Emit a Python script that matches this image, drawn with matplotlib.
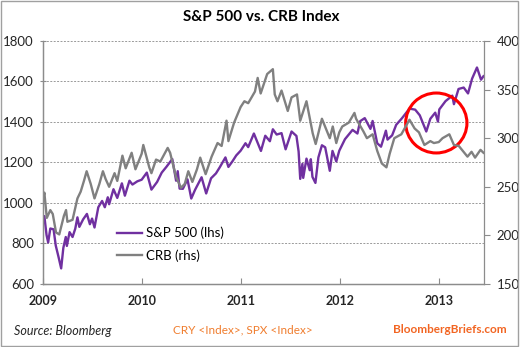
import pandas as pd
import matplotlib.pyplot as plt
import matplotlib.dates as mdates
from matplotlib.patches import Ellipse, Rectangle

# S&P 500 (left axis)
spx_dates = [
    "2009-01-02", "2009-01-06", "2009-01-14", "2009-01-20", "2009-01-28", "2009-02-09",
    "2009-02-17", "2009-02-27", "2009-03-09", "2009-03-17", "2009-03-26", "2009-03-30",
    "2009-04-09", "2009-04-20", "2009-04-30", "2009-05-08", "2009-05-15", "2009-05-29",
    "2009-06-12", "2009-06-23", "2009-07-01", "2009-07-10", "2009-07-24", "2009-08-07",
    "2009-08-17", "2009-08-28", "2009-09-02", "2009-09-18", "2009-10-02", "2009-10-19",
    "2009-10-30", "2009-11-16", "2009-11-27", "2009-12-15", "2009-12-31",
    "2010-01-19", "2010-02-05", "2010-02-26", "2010-03-15", "2010-04-01", "2010-04-23",
    "2010-05-07", "2010-05-13", "2010-05-20", "2010-06-01", "2010-06-18", "2010-07-02",
    "2010-07-16", "2010-08-09", "2010-08-26", "2010-09-13", "2010-10-01", "2010-10-15",
    "2010-11-05", "2010-11-16", "2010-12-01", "2010-12-15", "2010-12-31",
    "2011-01-18", "2011-01-28", "2011-02-18", "2011-03-16", "2011-04-01", "2011-04-18",
    "2011-04-29", "2011-05-13", "2011-05-31", "2011-06-15", "2011-07-07", "2011-07-25",
    "2011-08-02", "2011-08-08", "2011-08-16", "2011-08-19", "2011-08-31", "2011-09-12",
    "2011-09-16", "2011-09-22", "2011-10-03", "2011-10-14", "2011-10-27", "2011-11-08",
    "2011-11-25", "2011-12-05", "2011-12-19", "2011-12-30",
    "2012-01-20", "2012-02-17", "2012-03-06", "2012-03-16", "2012-04-02", "2012-04-23",
    "2012-05-01", "2012-05-18", "2012-06-01", "2012-06-19", "2012-06-25", "2012-07-12",
    "2012-07-27", "2012-08-17", "2012-09-14", "2012-10-05", "2012-10-22", "2012-11-15",
    "2012-11-30", "2012-12-18", "2012-12-28",
    "2013-01-02", "2013-01-25", "2013-02-19", "2013-02-25", "2013-03-14", "2013-04-02",
    "2013-04-18", "2013-05-03", "2013-05-21", "2013-06-05", "2013-06-14",
]
spx_values = [
    931, 935, 842, 805, 874, 870,
    790, 735, 677, 778, 832, 788,
    856, 832, 873, 929, 882, 919,
    946, 895, 923, 879, 979, 1010,
    979, 1028, 994, 1068, 1025, 1097,
    1036, 1110, 1091, 1107, 1115,
    1150, 1066, 1104, 1150, 1178, 1217,
    1110, 1157, 1071, 1070, 1117, 1022,
    1065, 1127, 1047, 1122, 1146, 1176,
    1225, 1178, 1206, 1235, 1258,
    1295, 1276, 1343, 1257, 1332, 1305,
    1364, 1338, 1345, 1265, 1353, 1331,
    1254, 1119, 1193, 1124, 1219, 1162,
    1216, 1129, 1099, 1225, 1285, 1275,
    1159, 1257, 1205, 1258,
    1315, 1361, 1343, 1404, 1419, 1366,
    1405, 1295, 1278, 1357, 1313, 1334,
    1386, 1418, 1466, 1461, 1433, 1353,
    1416, 1446, 1402,
    1462, 1503, 1530, 1488, 1563, 1570,
    1541, 1614, 1669, 1609, 1626,
]

# CRB index (right axis)
crb_dates = [
    "2009-01-02", "2009-01-06", "2009-01-15", "2009-01-28", "2009-02-06", "2009-02-18",
    "2009-03-02", "2009-03-19", "2009-03-27", "2009-04-01", "2009-04-20", "2009-05-08",
    "2009-05-20", "2009-06-01", "2009-06-11", "2009-06-26", "2009-07-10", "2009-07-28",
    "2009-08-10", "2009-08-20", "2009-09-02", "2009-09-22", "2009-10-02", "2009-10-21",
    "2009-11-02", "2009-11-24", "2009-12-08", "2009-12-31",
    "2010-01-06", "2010-01-28", "2010-02-05", "2010-02-22", "2010-03-10", "2010-04-06",
    "2010-04-15", "2010-05-07", "2010-05-25", "2010-06-08", "2010-06-21", "2010-07-06",
    "2010-07-23", "2010-08-04", "2010-08-24", "2010-09-15", "2010-10-07", "2010-10-22",
    "2010-11-09", "2010-11-16", "2010-12-07", "2010-12-31",
    "2011-01-14", "2011-01-28", "2011-02-22", "2011-03-04", "2011-03-15", "2011-04-08",
    "2011-04-29", "2011-05-06", "2011-05-16", "2011-05-31", "2011-06-23", "2011-07-07",
    "2011-07-27", "2011-08-08", "2011-08-31", "2011-09-23", "2011-10-04", "2011-10-27",
    "2011-11-25", "2011-12-06", "2011-12-19", "2011-12-30",
    "2012-01-10", "2012-02-03", "2012-02-24", "2012-03-01", "2012-03-28", "2012-04-10",
    "2012-05-01", "2012-05-18", "2012-06-04", "2012-06-21", "2012-07-03", "2012-07-20",
    "2012-08-15", "2012-09-14", "2012-10-03", "2012-10-19", "2012-11-08", "2012-11-30",
    "2012-12-13", "2012-12-31",
    "2013-01-14", "2013-02-08", "2013-02-25", "2013-03-15", "2013-04-16", "2013-05-01",
    "2013-05-14", "2013-06-03", "2013-06-14",
]
crb_values = [
    238, 244, 218, 226, 222, 203,
    201, 220, 226, 214, 216, 238,
    245, 256, 266, 253, 238, 253,
    266, 258, 250, 264, 256, 282,
    269, 285, 268, 284,
    293, 270, 264, 278, 276, 290,
    285, 260, 249, 253, 266, 255,
    268, 280, 263, 281, 295, 292,
    318, 297, 316, 332,
    338, 336, 348, 362, 346, 366,
    371, 345, 338, 349, 328, 342,
    345, 318, 338, 305, 294, 320,
    300, 312, 295, 306,
    312, 316, 326, 320, 307, 300,
    304, 287, 274, 270, 284, 300,
    304, 319, 310, 306, 293, 297,
    295, 296,
    300, 304, 293, 292, 281, 286,
    280, 288, 285,
]

year_labels = ["2009", "2010", "2011", "2012", "2013"]
left_ticks = [600, 800, 1000, 1200, 1400, 1600, 1800]
right_ticks = [150, 200, 250, 300, 350, 400]

purple = "#7030A0"
grey = "#808080"
axis_grey = "#8c8c8c"
text_col = "#262626"

plt.rcParams['font.family'] = ['Lato', 'DejaVu Sans']

fig = plt.figure(figsize=(5.2, 3.47), dpi=100)
ax = fig.add_axes([0.0827, 0.1816, 0.8481, 0.7003])
ax2 = ax.twinx()

spx_x = pd.to_datetime(spx_dates)
crb_x = pd.to_datetime(crb_dates)

l1, = ax.plot(spx_x, spx_values, color=purple, linewidth=1.7, label="S&P 500 (lhs)")
l2, = ax2.plot(crb_x, crb_values, color=grey, linewidth=1.7, label="CRB (rhs)")

# axes limits and ticks
ax.set_xlim(pd.Timestamp("2009-01-01"), pd.Timestamp("2013-06-16"))
ax.set_ylim(600, 1800)
ax2.set_ylim(150, 400)
ax.set_yticks(left_ticks)
ax2.set_yticks(right_ticks)
ax.set_xticks(pd.to_datetime([y + "-01-01" for y in year_labels]))
ax.set_xticklabels(year_labels, fontweight='bold', fontsize=9, color=text_col)

ax.tick_params(axis='y', direction='inout', length=5, color=axis_grey, labelsize=9.5,
               labelcolor=text_col, pad=4)
ax.tick_params(axis='x', direction='in', length=4, color=axis_grey, pad=8)
ax2.tick_params(axis='y', direction='out', length=4, color=axis_grey, labelsize=9.5,
                labelcolor=text_col, pad=5)

for a in (ax, ax2):
    a.spines['top'].set_visible(False)
    for s in ('left', 'right', 'bottom'):
        a.spines[s].set_color(axis_grey)
        a.spines[s].set_linewidth(0.9)
ax.spines['right'].set_visible(False)

ax.yaxis.grid(True, color='#9a9a9a', linestyle=(0, (2, 1.5)), linewidth=0.7)
ax.set_axisbelow(True)

# legend
ax2.legend(handles=[l1, l2], loc='upper left', bbox_to_anchor=(0.168, 0.235),
           frameon=False, fontsize=9.5, handlelength=1.9, handletextpad=0.3,
           labelspacing=0.75, borderpad=0, borderaxespad=0)

# red highlight circle
circle_center = (mdates.date2num(pd.Timestamp("2012-12-22")), 1395)
circle = Ellipse(circle_center, width=226, height=296, fill=False,
                 edgecolor='#ff0000', linewidth=2.2, zorder=5)
ax.add_patch(circle)

# title and footer
fig.text(0.503, 0.951, "S&P 500 vs. CRB Index", ha='center', va='center',
         fontsize=11, fontweight='bold', color='black')
fig.text(0.027, 0.045, "Source: Bloomberg", ha='left', va='center',
         fontsize=9, fontstyle='italic', color=text_col)
fig.text(0.467, 0.05, "CRY <Index>, SPX <Index>", ha='center', va='center',
         fontsize=8.5, color='#f07d2e')
fig.text(0.975, 0.05, "BloombergBriefs.com", ha='right', va='center',
         fontsize=8.5, fontweight='bold', color='#f26522')

# outer frame
fig.patches.append(Rectangle((0.002, 0.003), 0.995, 0.994, transform=fig.transFigure,
                             fill=False, edgecolor='#a0a0a0', linewidth=1.0))

fig.savefig("out.png", dpi=100)
